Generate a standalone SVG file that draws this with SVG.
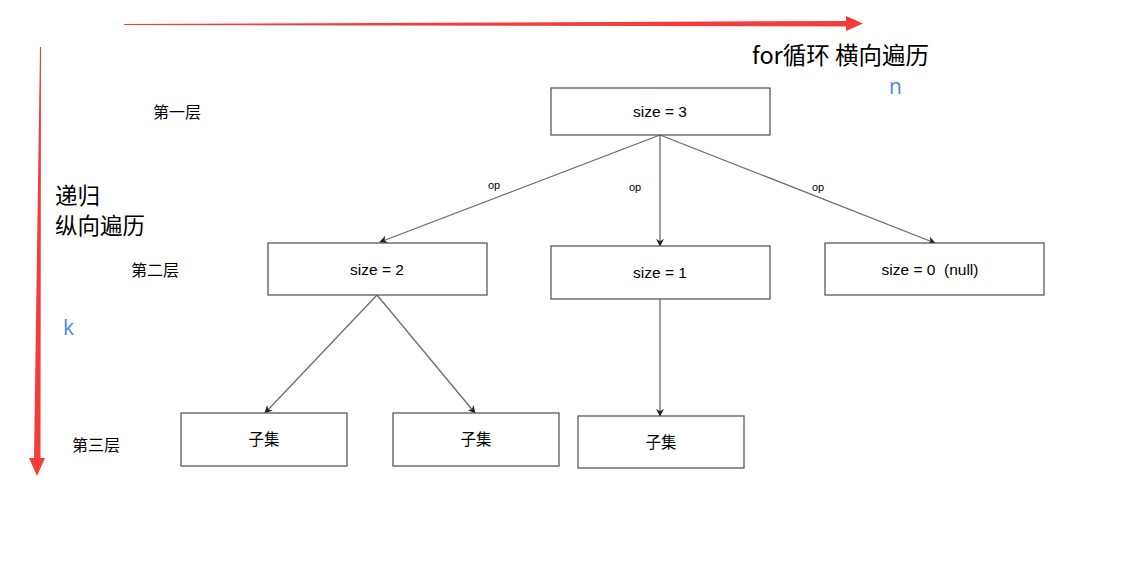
<svg xmlns="http://www.w3.org/2000/svg" width="1141" height="575" viewBox="0 0 1141 575">
<style>
.box{fill:#fff;stroke:#595959;stroke-width:1.3}
.t{font-family:"Liberation Sans",Arial,"Noto Sans CJK SC",sans-serif;font-size:15.5px;fill:#000;text-anchor:middle;dominant-baseline:central}
.cn{font-family:"Noto Sans CJK SC","Liberation Sans",sans-serif;fill:#000}
.op{font-family:"Liberation Sans",Arial,sans-serif;font-size:11px;fill:#000;text-anchor:middle}
.edge{stroke:#6b6b6b;stroke-width:1.3;fill:none;marker-end:url(#ah)}
.blue{font-family:"Open Sans","Liberation Sans",sans-serif;font-size:21px;fill:#3c8fde}
</style>
<defs>
<marker id="ah" viewBox="0 0 10 10" refX="9" refY="5" markerWidth="8" markerHeight="8" markerUnits="userSpaceOnUse" orient="auto">
<path d="M0,0 L10,5 L0,10 L3,5 Z" fill="#222"/>
</marker>
</defs>
<rect width="1141" height="575" fill="#fff"/>
<g id="arrows-red" fill="#f63b3b">
<polygon points="124,24 846,21 846,16 863,23.5 846,31 846,26.5 124,25"/>
<polygon points="40,47 41,47 40.5,458 45,458 37,476 29,458 34,458"/>
</g>
<g id="labels">
<text x="752" y="64" class="cn" font-size="23.5">for循环 横向遍历</text>
<text x="889" y="94" class="blue">n</text>
<text x="63" y="335" class="blue">k</text>
<text x="55" y="204" class="cn" font-size="22.5">递归</text>
<text x="55" y="234" class="cn" font-size="22.5">纵向遍历</text>
<text x="153" y="118" class="cn" font-size="16">第一层</text>
<text x="131" y="276" class="cn" font-size="16">第二层</text>
<text x="72" y="451" class="cn" font-size="16">第三层</text>
</g>
<g id="connectors">
<line class="edge" x1="660" y1="135" x2="380" y2="242"/>
<line class="edge" x1="660" y1="135" x2="660" y2="246"/>
<line class="edge" x1="660" y1="135" x2="935" y2="243"/>
<line class="edge" x1="377" y1="295" x2="265" y2="413"/>
<line class="edge" x1="377" y1="295" x2="475" y2="413"/>
<line class="edge" x1="660" y1="299" x2="660" y2="416"/>
<text class="op" x="494" y="189">op</text>
<text class="op" x="635" y="191">op</text>
<text class="op" x="818" y="191">op</text>
</g>
<g id="n-size3"><rect class="box" x="551" y="88" width="219" height="47"/><text class="t" x="660" y="111.5">size = 3</text></g>
<g id="n-size2"><rect class="box" x="268" y="243" width="219" height="52"/><text class="t" x="377" y="269">size = 2</text></g>
<g id="n-size1"><rect class="box" x="551" y="246" width="219" height="53"/><text class="t" x="660" y="272.5">size = 1</text></g>
<g id="n-size0"><rect class="box" x="825" y="243" width="219" height="52"/><text class="t" x="930" y="269" xml:space="preserve">size = 0  (null)</text></g>
<g id="n-sub1"><rect class="box" x="181" y="413" width="166" height="53"/><text class="t" x="264" y="439" font-size="16">子集</text></g>
<g id="n-sub2"><rect class="box" x="393" y="413" width="166" height="53"/><text class="t" x="476" y="439" font-size="16">子集</text></g>
<g id="n-sub3"><rect class="box" x="578" y="416" width="166" height="52"/><text class="t" x="661" y="442" font-size="16">子集</text></g>
</svg>
